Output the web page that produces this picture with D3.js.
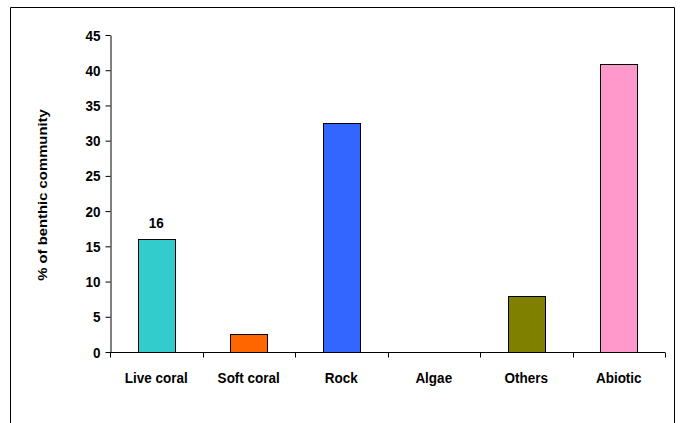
<!DOCTYPE html>
<html>
<head>
<meta charset="utf-8">
<script src="https://cdn.jsdelivr.net/npm/d3@7"></script>
<style>
  html, body { margin: 0; padding: 0; background: #fff; }
  svg { display: block; font-family: "Liberation Sans", Arial, sans-serif; }
</style>
</head>
<body>
<svg id="chart" width="681" height="423"></svg>
<script>
// Benthic community composition (% cover)
const categories = ["Live coral", "Soft coral", "Rock", "Algae", "Others", "Abiotic"];
const values = [16, 2.6, 32.5, 0, 8, 40.9];
const colors = ["#33CCCC", "#FF6600", "#3366FF", "#339966", "#808000", "#FF99CC"];
const yTicks = [0, 5, 10, 15, 20, 25, 30, 35, 40, 45];
const labelled = [true, false, false, false, false, false];

const svg = d3.select("#chart");
const W = 681, H = 423;
const FS = 13.5;      // label font size
const TALL = 1.1;     // slightly tall lettering

// chart area frame (bottom edge runs off the page)
svg.append("path")
  .attr("d", `M10.5,${H + 2} V7.5 H674.5 V${H + 2}`)
  .attr("fill", "none")
  .attr("stroke", "#000")
  .attr("stroke-width", 1);

const plot = { left: 110, right: 665, top: 35, bottom: 352 };

const x = d3.scaleBand()
  .domain(categories)
  .range([plot.left, plot.right])
  .paddingInner(0.6)
  .paddingOuter(0.3);

const y = d3.scaleLinear()
  .domain([0, 45])
  .range([plot.bottom, plot.top]);

// horizontal text helper: anchor point, stretched vertically about the baseline
function tallText(sel, px, py) {
  sel.attr("transform", (d, i) => `translate(${px(d, i)},${py(d, i)}) scale(1,${TALL})`);
}

// bars
svg.append("g").selectAll("rect")
  .data(categories)
  .join("rect")
  .attr("x", d => Math.round(x(d)) + 0.5)
  .attr("y", (d, i) => Math.round(y(values[i])) + 0.5)
  .attr("width", Math.round(x.bandwidth()))
  .attr("height", (d, i) => Math.round(y(0)) - Math.round(y(values[i])))
  .attr("fill", (d, i) => colors[i])
  .attr("stroke", "#000")
  .attr("stroke-width", 1)
  .style("display", (d, i) => values[i] > 0 ? null : "none");

// value label
svg.append("g").selectAll("text")
  .data(categories.filter((d, i) => labelled[i]))
  .join("text")
  .attr("text-anchor", "middle")
  .attr("font-size", FS)
  .attr("font-weight", "bold")
  .call(tallText, d => x(d) + x.bandwidth() / 2, d => y(values[categories.indexOf(d)]) - 11)
  .text(d => values[categories.indexOf(d)]);

// y axis
const yAxis = svg.append("g")
  .attr("transform", `translate(${plot.left + 0.5},0)`)
  .call(d3.axisLeft(y).tickValues(yTicks).tickSize(5).tickPadding(5).tickSizeOuter(0));
yAxis.select(".domain").attr("stroke", "#000");
yAxis.selectAll(".tick line").attr("stroke", "#000");
yAxis.selectAll(".tick text")
  .attr("font-size", FS)
  .attr("font-weight", "bold")
  .attr("font-family", "'Liberation Sans', Arial, sans-serif")
  .attr("fill", "#000")
  .attr("dy", null)
  .attr("transform", `translate(0,5) scale(1,${TALL})`);

// x axis with ticks between categories
const xAxisG = svg.append("g")
  .attr("transform", `translate(0,${plot.bottom + 0.5})`);
xAxisG.append("line")
  .attr("x1", plot.left).attr("x2", plot.right)
  .attr("stroke", "#000");
const boundaries = d3.range(categories.length + 1)
  .map(i => plot.left + i * (plot.right - plot.left) / categories.length);
xAxisG.selectAll("line.tick")
  .data(boundaries)
  .join("line")
  .attr("class", "tick")
  .attr("x1", d => Math.round(d) + 0.5).attr("x2", d => Math.round(d) + 0.5)
  .attr("y1", 0).attr("y2", 5)
  .attr("stroke", "#000");
xAxisG.selectAll("text")
  .data(categories)
  .join("text")
  .attr("text-anchor", "middle")
  .attr("font-size", FS)
  .attr("font-weight", "bold")
  .call(tallText, d => x(d) + x.bandwidth() / 2, () => 30)
  .text(d => d);

// y axis title
svg.append("text")
  .attr("transform", `translate(47,195) rotate(-90) scale(${TALL},1)`)
  .attr("text-anchor", "middle")
  .attr("font-size", FS)
  .attr("font-weight", "bold")
  .text("% of benthic community");
</script>
</body>
</html>
